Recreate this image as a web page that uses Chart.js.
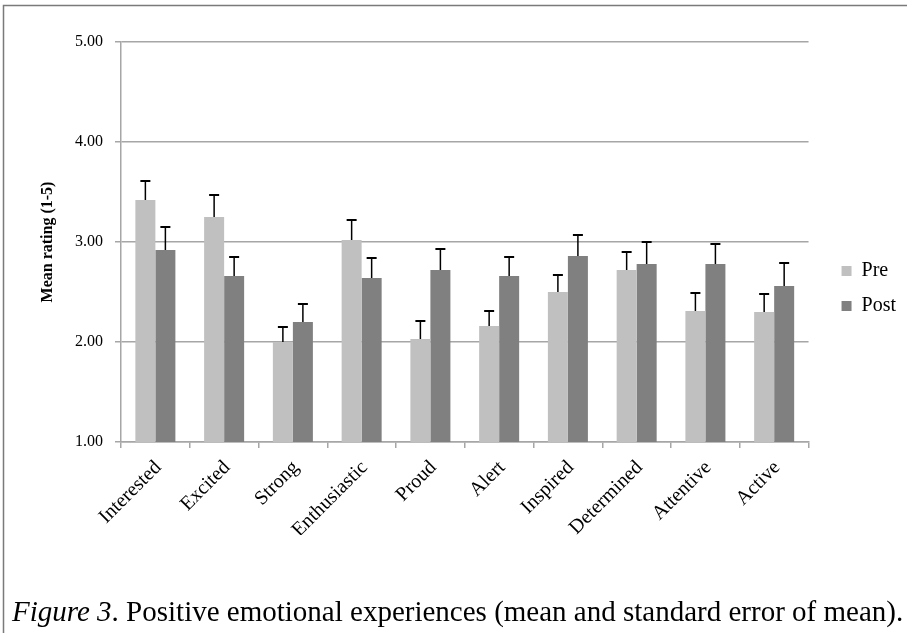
<!DOCTYPE html>
<html>
<head>
<meta charset="utf-8">
<script src="https://cdn.jsdelivr.net/npm/chart.js@4.4.1/dist/chart.umd.min.js"></script>
<style>
  html, body { margin: 0; padding: 0; background: #fff; }
  canvas { display: block; }
</style>
</head>
<body>
<canvas id="c" width="907" height="633"></canvas>
<script>
// Emotion categories and mean ratings (1-5) with standard errors
const categories = ['Interested', 'Excited', 'Strong', 'Enthusiastic', 'Proud',
                    'Alert', 'Inspired', 'Determined', 'Attentive', 'Active'];
const preMeans  = [3.42, 3.25, 2.00, 3.02, 2.03, 2.16, 2.50, 2.72, 2.31, 2.30];
const preSE     = [0.19, 0.22, 0.15, 0.20, 0.18, 0.15, 0.17, 0.18, 0.18, 0.18];
const postMeans = [2.92, 2.66, 2.20, 2.64, 2.72, 2.66, 2.86, 2.78, 2.78, 2.56];
const postSE    = [0.23, 0.19, 0.18, 0.20, 0.21, 0.19, 0.21, 0.22, 0.20, 0.23];
const yTicks = [1, 2, 3, 4, 5];

const serif = '"Liberation Serif", "Times New Roman", serif';
const gridGray = '#a6a6a6';

// white page, outer frame and figure caption
const pagePlugin = {
  id: 'page',
  beforeDraw(chart) {
    const ctx = chart.ctx;
    ctx.save();
    ctx.fillStyle = '#fff';
    ctx.fillRect(0, 0, chart.width, chart.height);
    ctx.restore();
  },
  afterDraw(chart) {
    const ctx = chart.ctx;
    ctx.save();
    ctx.strokeStyle = '#7a7a7a';
    ctx.lineWidth = 1.5;
    ctx.beginPath();
    ctx.moveTo(3.5, chart.height);
    ctx.lineTo(3.5, 5.5);
    ctx.lineTo(chart.width, 5.5);
    ctx.stroke();

    ctx.fillStyle = '#000';
    ctx.textBaseline = 'alphabetic';
    ctx.textAlign = 'left';
    const y = 621;
    let x = 12;
    ctx.font = 'italic 29px ' + serif;
    const lead = 'Figure 3';
    ctx.fillText(lead, x, y);
    x += ctx.measureText(lead).width;
    ctx.font = '29px ' + serif;
    ctx.fillText('. Positive emotional experiences (mean and standard error of mean).', x, y);
    ctx.restore();
  }
};

// leave a gap between the plot and the legend swatches
const legendGapPlugin = {
  id: 'legendGap',
  afterLayout(chart) {
    const lg = chart.legend;
    if (lg) { lg.left += 18; lg.right += 18; }
  }
};

// upward standard-error whiskers with caps
const errorBarPlugin = {
  id: 'errorBars',
  afterDatasetsDraw(chart) {
    const ctx = chart.ctx;
    const yScale = chart.scales.y;
    ctx.save();
    ctx.strokeStyle = '#000';
    chart.data.datasets.forEach((ds, di) => {
      const meta = chart.getDatasetMeta(di);
      meta.data.forEach((bar, i) => {
        const top = yScale.getPixelForValue(ds.data[i] + ds.se[i]);
        const x = bar.x;
        ctx.lineWidth = 1.5;
        ctx.beginPath();
        ctx.moveTo(x, bar.y);
        ctx.lineTo(x, top);
        ctx.stroke();
        ctx.lineWidth = 2;
        ctx.beginPath();
        ctx.moveTo(x - 5, top);
        ctx.lineTo(x + 5, top);
        ctx.stroke();
      });
    });
    ctx.restore();
  }
};

new Chart(document.getElementById('c'), {
  type: 'bar',
  data: {
    labels: categories,
    datasets: [
      { label: 'Pre',  data: preMeans,  se: preSE,  backgroundColor: '#c0c0c0', borderWidth: 0 },
      { label: 'Post', data: postMeans, se: postSE, backgroundColor: '#808080', borderWidth: 0 }
    ]
  },
  options: {
    responsive: false,
    animation: false,
    devicePixelRatio: 1,
    categoryPercentage: 0.582,
    barPercentage: 1.0,
    layout: { padding: { left: 0, top: 42, right: 19, bottom: 98 } },
    plugins: {
      tooltip: { enabled: false },
      legend: {
        position: 'right',
        align: 'center',
        labels: {
          boxWidth: 10,
          boxHeight: 10,
          padding: 15,
          color: '#000',
          font: { family: serif, size: 20 }
        }
      }
    },
    scales: {
      x: {
        afterFit(scale) { scale.height = 93; },
        grid: { drawOnChartArea: false, drawTicks: true, tickLength: 6, color: gridGray, lineWidth: 1.5 },
        border: { display: true, color: gridGray, width: 1.5 },
        ticks: {
          color: '#000',
          font: { family: serif, size: 20 },
          minRotation: 45,
          maxRotation: 45,
          autoSkip: false,
          padding: 8,
          labelOffset: 3
        }
      },
      y: {
        min: 1,
        max: 5,
        afterBuildTicks(scale) { scale.ticks = yTicks.map(v => ({ value: v })); },
        afterFit(scale) { scale.width = 121; },
        grid: { color: gridGray, lineWidth: 1.5, tickLength: 6 },
        border: { display: true, color: gridGray, width: 1.5 },
        ticks: {
          color: '#000',
          padding: 12,
          font: { family: serif, size: 16 },
          callback: v => Number(v).toFixed(2)
        },
        title: {
          display: true,
          text: 'Mean rating (1-5)',
          color: '#000',
          font: { family: serif, size: 16, weight: 'bold' },
          padding: { top: 38, bottom: 0 }
        }
      }
    }
  },
  plugins: [pagePlugin, legendGapPlugin, errorBarPlugin]
});
</script>
</body>
</html>
